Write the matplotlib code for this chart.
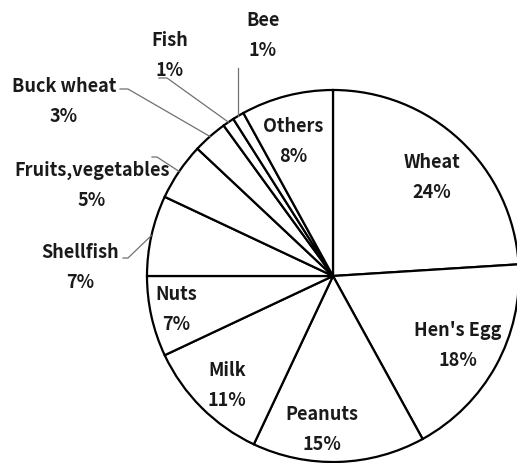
import numpy as np
import matplotlib
matplotlib.use("Agg")
import matplotlib.pyplot as plt

# ── Data ─────────────────────────────────────────────────────────────────────
categories = ["Wheat", "Hen's Egg", "Peanuts", "Milk", "Nuts", "Shellfish",
              "Fruits,vegetables", "Buck wheat", "Fish", "Bee", "Others"]
shares = [24, 18, 15, 11, 7, 7, 5, 3, 1, 1, 8]

W, H = 517, 463
CX, CY, R = 333, 276, 186

# label centre (name line, pixel coords from top-left)
label_pos = {
    "Wheat": (432, 163), "Hen's Egg": (458, 330), "Peanuts": (322, 414),
    "Milk": (227, 370), "Nuts": (176, 295), "Shellfish": (80, 253),
    "Fruits,vegetables": (92, 170), "Buck wheat": (64, 87),
    "Fish": (170, 40), "Bee": (263, 20), "Others": (293, 127),
}
# leader line start (pixel coords), for the labels outside the pie
leader_start = {
    "Shellfish": [(123, 258), (128, 258)],
    "Fruits,vegetables": [(152, 157), (157, 157)],
    "Buck wheat": [(120, 89), (128, 89)],
    "Fish": [(159, 78), (167, 78)],
    "Bee": [(237, 68)],
}

plt.rcParams["font.family"] = ["Noto Sans CJK JP", "DejaVu Sans"]

fig = plt.figure(figsize=(W / 100, H / 100), dpi=100)
ax = fig.add_axes([0, 0, 1, 1])

wedges, _ = ax.pie(shares, center=(CX, H - CY), radius=R, startangle=90,
                   counterclock=False,
                   wedgeprops=dict(facecolor="white", edgecolor="black",
                                   linewidth=1.6))
ax.set_xlim(0, W)
ax.set_ylim(0, H)
ax.set_aspect("equal")
ax.axis("off")

for name, val, w in zip(categories, shares, wedges):
    x, y = label_pos[name]
    ax.text(x, H - y, name, ha="center", va="center", fontsize=13,
            fontweight="bold", color="#1a1a1a")
    ax.text(x, H - y - 30, f"{val}%", ha="center", va="center", fontsize=13,
            fontweight="bold", color="#1a1a1a")
    if name in leader_start:
        mid = np.deg2rad((w.theta1 + w.theta2) / 2)
        ex, ey = CX + R * np.cos(mid), H - CY + R * np.sin(mid)
        pts = [(px, H - py) for px, py in leader_start[name]] + [(ex, ey)]
        if name == "Bee":
            pts = [(ex, pts[0][1]), (ex, ey)]
        xs, ys = zip(*pts)
        ax.plot(xs, ys, color="#707070", lw=0.9)

fig.savefig("out.png", dpi=100)
